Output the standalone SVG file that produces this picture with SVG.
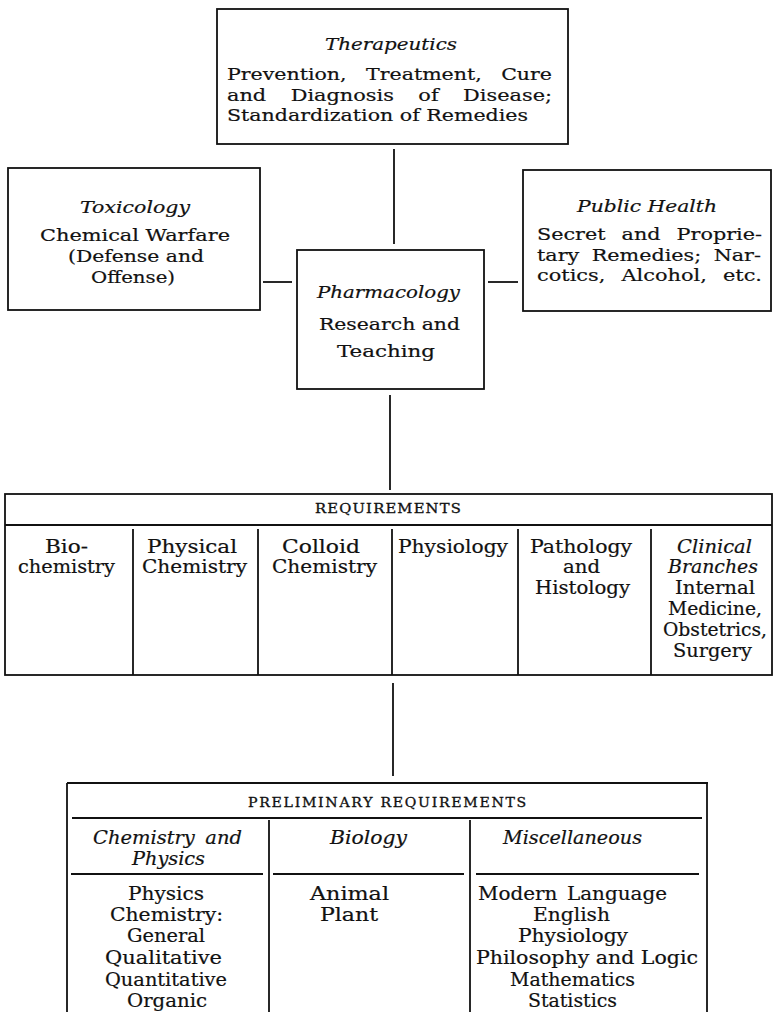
<svg xmlns="http://www.w3.org/2000/svg" width="774" height="1012" viewBox="0 0 774 1012">
<style>
.box{fill:none;stroke:#111;stroke-width:1.8}
.ln{fill:none;stroke:#111;stroke-width:1.8}
text{font-family:"DejaVu Serif","Liberation Serif",serif;fill:#111;stroke:#111;stroke-width:0.2}
.b{font-size:17.5px}
.t{font-size:18px}
.p{font-size:18.3px}
.h{font-size:18px}
.i{font-style:italic}
.sc{font-size:12.5px;stroke-width:0.3}
</style>
<rect width="774" height="1012" fill="#fff"/>
<g id="connectors">
<line class="ln" x1="394" y1="149" x2="394" y2="244"/>
<line class="ln" x1="263" y1="282" x2="292" y2="282"/>
<line class="ln" x1="488" y1="282" x2="518" y2="282"/>
<line class="ln" x1="390" y1="395" x2="390" y2="490"/>
<line class="ln" x1="393" y1="683" x2="393" y2="776"/>
</g>
<g id="therapeutics">
<rect class="box" x="217" y="9" width="351" height="135"/>
<text class="b i" x="325" y="50" textLength="132" lengthAdjust="spacingAndGlyphs">Therapeutics</text>
<text class="b" x="227" y="80" word-spacing="11" textLength="325" lengthAdjust="spacingAndGlyphs">Prevention, Treatment, Cure</text>
<text class="b" x="227" y="100.5" word-spacing="15" textLength="325" lengthAdjust="spacingAndGlyphs">and Diagnosis of Disease;</text>
<text class="b" x="227" y="121" textLength="301" lengthAdjust="spacingAndGlyphs">Standardization of Remedies</text>
</g>
<g id="toxicology">
<rect class="box" x="8" y="168" width="252" height="142"/>
<text class="b i" x="80" y="213" textLength="110" lengthAdjust="spacingAndGlyphs">Toxicology</text>
<text class="b" x="40" y="241" textLength="190" lengthAdjust="spacingAndGlyphs">Chemical Warfare</text>
<text class="b" x="68" y="262" textLength="136" lengthAdjust="spacingAndGlyphs">(Defense and</text>
<text class="b" x="91" y="283" textLength="84" lengthAdjust="spacingAndGlyphs">Offense)</text>
</g>
<g id="public-health">
<rect class="box" x="523" y="170" width="248" height="141"/>
<text class="b i" x="577" y="212" textLength="140" lengthAdjust="spacingAndGlyphs">Public Health</text>
<text class="b" x="537" y="240" word-spacing="8" textLength="225" lengthAdjust="spacingAndGlyphs">Secret and Proprie-</text>
<text class="b" x="537" y="260.5" word-spacing="5" textLength="224" lengthAdjust="spacingAndGlyphs">tary Remedies; Nar-</text>
<text class="b" x="537" y="281" word-spacing="8" textLength="225" lengthAdjust="spacingAndGlyphs">cotics, Alcohol, etc.</text>
</g>
<g id="pharmacology">
<rect class="box" x="297" y="250" width="187" height="139"/>
<text class="b i" x="317" y="298" textLength="143" lengthAdjust="spacingAndGlyphs">Pharmacology</text>
<text class="b" x="319" y="330" textLength="141" lengthAdjust="spacingAndGlyphs">Research and</text>
<text class="b" x="337" y="357" textLength="98" lengthAdjust="spacingAndGlyphs">Teaching</text>
</g>
<g id="requirements">
<rect class="box" x="5" y="494" width="767" height="181"/>
<line class="ln" x1="5" y1="525" x2="772" y2="525"/>
<line class="ln" x1="133" y1="529" x2="133" y2="675"/>
<line class="ln" x1="258" y1="529" x2="258" y2="675"/>
<line class="ln" x1="392" y1="529" x2="392" y2="675"/>
<line class="ln" x1="518" y1="529" x2="518" y2="675"/>
<line class="ln" x1="651" y1="529" x2="651" y2="675"/>
<text class="sc" x="315" y="513" letter-spacing="1" textLength="147" lengthAdjust="spacingAndGlyphs">REQUIREMENTS</text>
<text class="t" x="45" y="553" textLength="43" lengthAdjust="spacingAndGlyphs">Bio-</text>
<text class="t" x="18" y="573" textLength="97" lengthAdjust="spacingAndGlyphs">chemistry</text>
<text class="t" x="147" y="553" textLength="90" lengthAdjust="spacingAndGlyphs">Physical</text>
<text class="t" x="142" y="573" textLength="105" lengthAdjust="spacingAndGlyphs">Chemistry</text>
<text class="t" x="282" y="553" textLength="78" lengthAdjust="spacingAndGlyphs">Colloid</text>
<text class="t" x="272" y="573" textLength="105" lengthAdjust="spacingAndGlyphs">Chemistry</text>
<text class="t" x="398" y="553" textLength="110" lengthAdjust="spacingAndGlyphs">Physiology</text>
<text class="t" x="530" y="553" textLength="102" lengthAdjust="spacingAndGlyphs">Pathology</text>
<text class="t" x="563" y="573" textLength="37" lengthAdjust="spacingAndGlyphs">and</text>
<text class="t" x="535" y="594" textLength="95" lengthAdjust="spacingAndGlyphs">Histology</text>
<text class="t i" x="677" y="553" textLength="75" lengthAdjust="spacingAndGlyphs">Clinical</text>
<text class="t i" x="668" y="573" textLength="90" lengthAdjust="spacingAndGlyphs">Branches</text>
<text class="t" x="675" y="594" textLength="80" lengthAdjust="spacingAndGlyphs">Internal</text>
<text class="t" x="668" y="615" textLength="94" lengthAdjust="spacingAndGlyphs">Medicine,</text>
<text class="t" x="663" y="636" textLength="104" lengthAdjust="spacingAndGlyphs">Obstetrics,</text>
<text class="t" x="673" y="657" textLength="79" lengthAdjust="spacingAndGlyphs">Surgery</text>
</g>
<g id="preliminary-requirements">
<line class="ln" x1="67" y1="783" x2="708" y2="783"/>
<line class="ln" x1="67" y1="783" x2="67" y2="1012"/>
<line class="ln" x1="707" y1="783" x2="707" y2="1012"/>
<line class="ln" x1="72" y1="818" x2="702" y2="818"/>
<line class="ln" x1="269" y1="820" x2="269" y2="1012"/>
<line class="ln" x1="470" y1="820" x2="470" y2="1012"/>
<line class="ln" x1="71" y1="874" x2="263" y2="874"/>
<line class="ln" x1="273" y1="874" x2="464" y2="874"/>
<line class="ln" x1="476" y1="874" x2="699" y2="874"/>
<text class="sc" x="248" y="807" letter-spacing="1.5" textLength="280" lengthAdjust="spacingAndGlyphs">PRELIMINARY REQUIREMENTS</text>
<text class="h i" x="93" y="844" word-spacing="4" textLength="149" lengthAdjust="spacingAndGlyphs">Chemistry and</text>
<text class="h i" x="132" y="865" textLength="73" lengthAdjust="spacingAndGlyphs">Physics</text>
<text class="h i" x="330" y="844" textLength="77" lengthAdjust="spacingAndGlyphs">Biology</text>
<text class="h i" x="503" y="844" textLength="139" lengthAdjust="spacingAndGlyphs">Miscellaneous</text>
<text class="p" x="128" y="900" textLength="76" lengthAdjust="spacingAndGlyphs">Physics</text>
<text class="p" x="110" y="921" textLength="113" lengthAdjust="spacingAndGlyphs">Chemistry:</text>
<text class="p" x="127" y="942" textLength="78" lengthAdjust="spacingAndGlyphs">General</text>
<text class="p" x="105" y="964" textLength="117" lengthAdjust="spacingAndGlyphs">Qualitative</text>
<text class="p" x="105" y="985.5" textLength="122" lengthAdjust="spacingAndGlyphs">Quantitative</text>
<text class="p" x="127" y="1007" textLength="80" lengthAdjust="spacingAndGlyphs">Organic</text>
<text class="p" x="310" y="900" textLength="79" lengthAdjust="spacingAndGlyphs">Animal</text>
<text class="p" x="320" y="921" textLength="58" lengthAdjust="spacingAndGlyphs">Plant</text>
<text class="p" x="478" y="900" word-spacing="3" textLength="189" lengthAdjust="spacingAndGlyphs">Modern Language</text>
<text class="p" x="533" y="921" textLength="77" lengthAdjust="spacingAndGlyphs">English</text>
<text class="p" x="518" y="942" textLength="110" lengthAdjust="spacingAndGlyphs">Physiology</text>
<text class="p" x="476" y="964" textLength="222" lengthAdjust="spacingAndGlyphs">Philosophy and Logic</text>
<text class="p" x="510" y="985.5" textLength="125" lengthAdjust="spacingAndGlyphs">Mathematics</text>
<text class="p" x="528" y="1007" textLength="89" lengthAdjust="spacingAndGlyphs">Statistics</text>
</g>
</svg>
